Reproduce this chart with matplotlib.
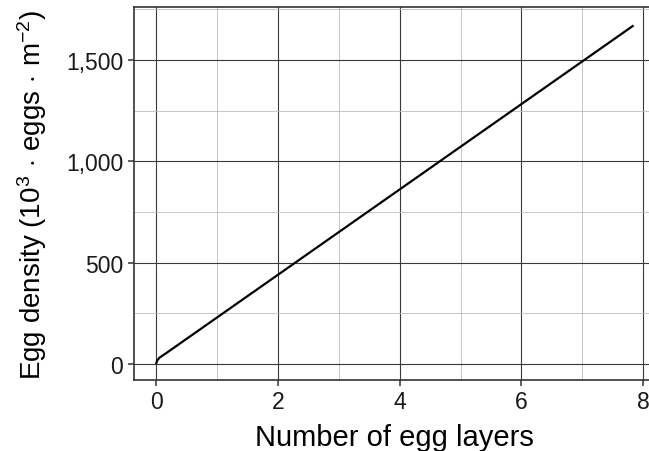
import matplotlib
matplotlib.use("Agg")
import matplotlib.pyplot as plt
from matplotlib.ticker import FuncFormatter, MultipleLocator

layers = [0, 0.02, 0.06, 0.15, 7.84]
density = [0, 18, 32, 50, 1670]

plt.rcParams['font.family'] = ['Liberation Sans', 'DejaVu Sans']
plt.rcParams['mathtext.fontset'] = 'custom'
plt.rcParams['mathtext.rm'] = 'Liberation Sans'
plt.rcParams['mathtext.it'] = 'Liberation Sans:italic'
plt.rcParams['mathtext.bf'] = 'Liberation Sans:bold'

W, H = 649, 452
fig = plt.figure(figsize=(W/100, H/100), dpi=100)
l, r, t, b = 133.5, 655.5, 8, 381
ax = fig.add_axes([l/W, 1 - b/H, (r-l)/W, (b-t)/H])

ax.plot(layers, density, color='black', lw=1.6, solid_capstyle='butt', zorder=3)

ax.set_xlim(-0.37, 8.2)
ax.set_ylim(-79, 1761)
ax.xaxis.set_major_locator(MultipleLocator(2))
ax.xaxis.set_minor_locator(MultipleLocator(1))
ax.yaxis.set_major_locator(MultipleLocator(500))
ax.yaxis.set_minor_locator(MultipleLocator(250))
ax.yaxis.set_major_formatter(FuncFormatter(lambda v, p: f"{int(v):,}"))

ax.grid(which='major', color='#3a3a3a', lw=0.8)
ax.grid(which='minor', color='#bdbdbd', lw=0.6)
ax.set_axisbelow(True)
for s in ax.spines.values():
    s.set_color('#333333')
    s.set_linewidth(1.2)

ax.tick_params(which='major', length=4.5, width=1.1, color='#333333', labelsize=16.5, labelcolor='#1a1a1a', pad=3)
ax.tick_params(which='minor', length=0)

ax.set_xlabel('Number of egg layers', fontsize=21, labelpad=7)
ax.set_ylabel(r'Egg density (10$^3\,\cdot\,$eggs$\,\cdot\,$m$^{-2}$)', fontsize=20, labelpad=12)

fig.savefig('out.png', dpi=100)
